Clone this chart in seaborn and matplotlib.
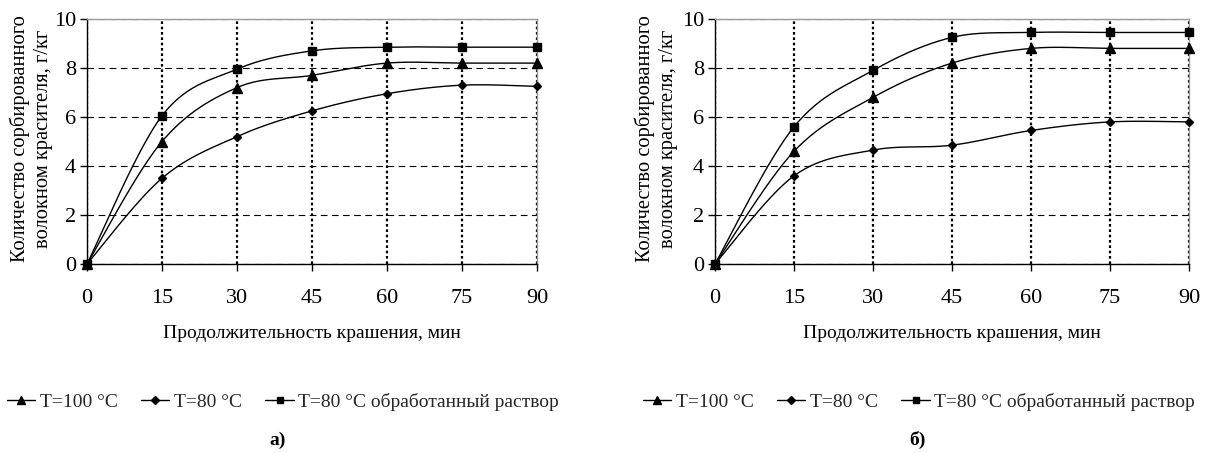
import numpy as np
import pandas as pd
import matplotlib
matplotlib.use("Agg")
import matplotlib.pyplot as plt
from matplotlib.lines import Line2D
import seaborn as sns

# ---- data ----
time_min = [0, 15, 30, 45, 60, 75, 90]
series_labels = ["T=100 °C", "T=80 °C", "T=80 °C обработанный раствор"]
markers = ["^", "D", "s"]
marker_sizes = [6.5, 4.5, 6.0]

a_t100 = [0, 5.0, 7.2, 7.7, 8.2, 8.2, 8.2]
a_t80 = [0, 3.5, 5.2, 6.25, 6.95, 7.3, 7.25]
a_t80_treated = [0, 6.05, 7.95, 8.7, 8.85, 8.85, 8.85]

b_t100 = [0, 4.6, 6.8, 8.2, 8.8, 8.8, 8.8]
b_t80 = [0, 3.6, 4.65, 4.85, 5.45, 5.8, 5.8]
b_t80_treated = [0, 5.6, 7.9, 9.25, 9.45, 9.45, 9.45]

panel_labels = ["а)", "б)"]
x_ticks = [0, 15, 30, 45, 60, 75, 90]
y_ticks = [0, 2, 4, 6, 8, 10]
xlabel = "Продолжительность крашения, мин"
ylabel = "Количество сорбированного\nволокном красителя, г/кг"

sns.set_theme(style="white")
plt.rcParams["font.family"] = ["Liberation Serif", "DejaVu Serif"]

FS = 14
TICK_FS = 16


def smooth(xs, ys, n=30):
    """Uniform Catmull-Rom (Excel-like smoothed line) through the points."""
    P = np.column_stack([xs, ys]).astype(float)
    P = np.vstack([P[0], P, P[-1]])
    out = []
    t = np.linspace(0, 1, n, endpoint=False)
    for i in range(1, len(P) - 2):
        p0, p1, p2, p3 = P[i - 1], P[i], P[i + 1], P[i + 2]
        c1 = p1 + (p2 - p0) / 6.0
        c2 = p2 - (p3 - p1) / 6.0
        tt = t[:, None]
        seg = ((1 - tt) ** 3) * p1 + 3 * ((1 - tt) ** 2) * tt * c1 + 3 * (1 - tt) * tt ** 2 * c2 + tt ** 3 * p2
        out.append(seg)
    out.append(P[-2][None, :])
    arr = np.vstack(out)
    return arr[:, 0], arr[:, 1]


fig = plt.figure(figsize=(12.09, 4.53), dpi=100)
W, H = 1209, 453
axes_px = [(87, 537), (715, 1189)]
top_px, bot_px = 19, 264

panels = [
    [a_t100, a_t80, a_t80_treated],
    [b_t100, b_t80, b_t80_treated],
]

ylabel_cx = [31, 656]
legend_cx = [283, 919]
panel_cx = [278, 917]

for k, (x0, x1) in enumerate(axes_px):
    ax = fig.add_axes([x0 / W, 1 - bot_px / H, (x1 - x0) / W, (bot_px - top_px) / H])
    ax.set_xlim(0, 90)
    ax.set_ylim(0, 10)
    ax.set_axisbelow(True)
    ax.yaxis.grid(True, color="black", linestyle=(0, (6, 4)), linewidth=0.8)
    ax.xaxis.grid(True, color="black", linestyle=(0, (1.2, 1.2)), linewidth=1.6)
    for s in ["top", "right"]:
        ax.spines[s].set_color("#9a9a9a")
        ax.spines[s].set_linewidth(1.0)
    for s in ["left", "bottom"]:
        ax.spines[s].set_color("black")
        ax.spines[s].set_linewidth(1.0)
    ax.set_xticks(x_ticks)
    ax.set_yticks(y_ticks)
    ax.tick_params(axis="both", direction="out", length=5, width=1, color="black",
                   labelsize=TICK_FS, labelcolor="black", bottom=True, left=True, pad=3)
    ax.tick_params(axis="x", pad=13)

    for vals, mk, ms in zip(panels[k], markers, marker_sizes):
        sx, sy = smooth(time_min, vals)
        sns.lineplot(x=sx, y=sy, ax=ax, sort=False, estimator=None, color="black",
                     linewidth=1.0, zorder=3)
        ax.plot(time_min, vals, linestyle="none", marker=mk, markersize=ms,
                color="black", zorder=4, clip_on=False)

    ax.set_xlabel("")
    ax.set_ylabel("")
    fig.text((x0 + x1) / 2 / W, 1 - 333 / H, xlabel, ha="center", va="center",
             fontsize=FS, color="black")
    fig.text(ylabel_cx[k] / W, 1 - 139 / H, ylabel, ha="center", va="center",
             rotation=90, fontsize=14.8, color="black", linespacing=1.3)
    handles = [Line2D([0], [0], color="black", lw=1.0, marker=mk, markersize=ms * 0.8)
               for mk, ms in zip(markers, marker_sizes)]
    fig.legend(handles, series_labels, loc="center", ncol=3,
               bbox_to_anchor=(legend_cx[k] / W, 1 - 402 / H), frameon=False,
               fontsize=FS, handlelength=1.45, handletextpad=0.25, columnspacing=1.2,
               borderpad=0.1, borderaxespad=0.0)
    fig.text(panel_cx[k] / W, 1 - 440 / H, panel_labels[k], ha="center", va="center",
             fontsize=FS, fontweight="bold", color="black")

fig.savefig("out.png", dpi=100)
